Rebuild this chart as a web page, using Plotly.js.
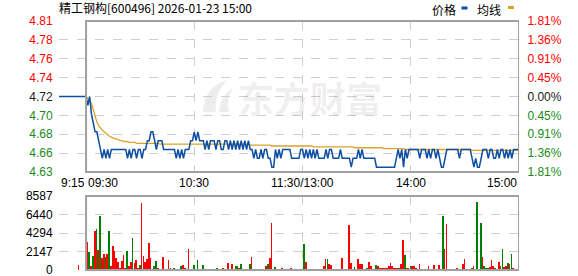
<!DOCTYPE html>
<html><head><meta charset="utf-8">
<script src="https://cdn.plot.ly/plotly-3.0.1.min.js"></script>
<style>html,body{margin:0;padding:0;background:#fff}#c{width:578px;height:276px}</style>
</head><body><div id="c"></div>
<script>
// ---------- data ----------
const stockTitle = '精工钢构[600496] 2026-01-23 15:00';
const prevClose = 4.72;
const maxPct = 1.81;
const priceTickLabels = ['4.81','4.78','4.76','4.74','4.72','4.70','4.68','4.66','4.63'];
const pctTickLabels = ['1.81%','1.36%','0.91%','0.45%','0.00%','0.45%','0.91%','1.36%','1.81%'];
const volTickVals = [0,2147,4294,6440,8587];
const volTickLabels = ['0','2147','4294','6440','8587'];
const timeLabels = ['9:15','09:30','10:30','11:30/13:00','14:00','15:00'];
const timeLabelMin = [-15,0,60,120,180,240];
const preOpenPrice = 4.72;     // 9:15 - 9:30
const auctionVolume = 580;     // 9:25 call auction
const auctionMinute = -5;

// price per trading minute (09:30 .. 15:00, 241 points)
const price = [
4.72,4.71,4.72,4.70,4.69,4.68,4.68,4.67,4.66,4.65,
4.66,4.65,4.66,4.65,4.66,4.66,4.66,4.66,4.66,4.66,
4.66,4.66,4.66,4.65,4.66,4.65,4.66,4.66,4.65,4.66,
4.66,4.65,4.66,4.66,4.67,4.67,4.68,4.68,4.67,4.66,
4.67,4.67,4.67,4.66,4.66,4.66,4.66,4.66,4.66,4.66,
4.65,4.66,4.65,4.66,4.65,4.66,4.66,4.66,4.67,4.67,
4.68,4.67,4.68,4.67,4.67,4.67,4.66,4.67,4.66,4.67,
4.67,4.67,4.66,4.67,4.67,4.66,4.66,4.67,4.67,4.66,
4.67,4.66,4.67,4.66,4.67,4.66,4.67,4.66,4.67,4.66,
4.67,4.66,4.66,4.65,4.66,4.65,4.65,4.66,4.65,4.66,
4.66,4.65,4.65,4.64,4.64,4.66,4.65,4.66,4.65,4.66,
4.66,4.66,4.66,4.66,4.65,4.65,4.65,4.65,4.65,4.66,
4.66,4.65,4.66,4.65,4.66,4.65,4.66,4.65,4.66,4.65,
4.65,4.65,4.65,4.66,4.65,4.66,4.66,4.65,4.65,4.65,
4.65,4.66,4.65,4.65,4.65,4.65,4.65,4.64,4.65,4.65,
4.65,4.66,4.65,4.66,4.65,4.65,4.65,4.65,4.65,4.65,
4.65,4.64,4.64,4.64,4.64,4.64,4.64,4.64,4.64,4.64,
4.64,4.64,4.65,4.66,4.65,4.66,4.64,4.66,4.65,4.66,
4.66,4.66,4.66,4.66,4.66,4.65,4.66,4.66,4.66,4.65,
4.66,4.65,4.66,4.66,4.65,4.66,4.65,4.64,4.64,4.65,
4.66,4.66,4.66,4.66,4.66,4.66,4.66,4.65,4.66,4.66,
4.66,4.66,4.66,4.66,4.65,4.64,4.65,4.64,4.64,4.65,
4.66,4.66,4.66,4.65,4.66,4.66,4.65,4.65,4.66,4.65,
4.66,4.66,4.65,4.66,4.65,4.66,4.65,4.66,4.66,4.66,
4.66];

// average price line
const avgPrice = [
4.720,4.718,4.716,4.712,4.705,4.697,4.691,4.687,4.684,4.682,
4.680,4.678,4.676,4.675,4.674,4.673,4.672,4.672,4.671,4.670,
4.670,4.669,4.669,4.669,4.668,4.668,4.668,4.668,4.667,4.667,
4.667,4.667,4.667,4.667,4.667,4.667,4.667,4.667,4.667,4.667,
4.667,4.666,4.666,4.666,4.666,4.666,4.666,4.666,4.666,4.666,
4.666,4.666,4.666,4.666,4.666,4.666,4.666,4.666,4.666,4.666,
4.666,4.666,4.666,4.666,4.666,4.666,4.666,4.666,4.666,4.666,
4.666,4.666,4.666,4.666,4.666,4.666,4.666,4.666,4.666,4.666,
4.666,4.666,4.666,4.666,4.666,4.666,4.666,4.666,4.666,4.666,
4.666,4.665,4.665,4.665,4.665,4.665,4.665,4.665,4.665,4.665,
4.665,4.665,4.665,4.664,4.664,4.664,4.664,4.664,4.664,4.664,
4.664,4.664,4.664,4.664,4.664,4.664,4.664,4.664,4.664,4.664,
4.664,4.664,4.664,4.664,4.664,4.664,4.663,4.663,4.663,4.663,
4.663,4.663,4.663,4.663,4.663,4.663,4.663,4.663,4.663,4.663,
4.663,4.663,4.663,4.663,4.663,4.663,4.663,4.663,4.663,4.662,
4.662,4.662,4.662,4.662,4.662,4.662,4.662,4.662,4.662,4.662,
4.662,4.662,4.662,4.662,4.662,4.661,4.661,4.661,4.661,4.661,
4.661,4.661,4.661,4.661,4.661,4.661,4.661,4.660,4.660,4.660,
4.660,4.660,4.660,4.660,4.660,4.660,4.660,4.660,4.660,4.660,
4.660,4.660,4.660,4.660,4.660,4.660,4.660,4.660,4.660,4.660,
4.660,4.660,4.660,4.660,4.660,4.660,4.660,4.660,4.660,4.660,
4.660,4.660,4.660,4.660,4.659,4.659,4.659,4.659,4.659,4.659,
4.659,4.659,4.659,4.659,4.659,4.659,4.659,4.659,4.659,4.659,
4.659,4.659,4.659,4.659,4.659,4.659,4.659,4.659,4.659,4.659,
4.659];

// volume per minute (lots)
const volume = [
3250,2090,460,1625,4490,4760,2320,6270,1390,1860,
1510,1860,4530,460,2790,2200,1390,930,230,1045,
1740,230,2200,460,900,3715,810,1160,230,580,
7780,1625,930,1280,3135,1390,115,460,1045,230,
115,115,1510,115,115,1160,230,115,230,115,
115,115,460,580,230,115,2440,115,115,580,
115,1160,115,115,580,115,115,115,115,115,
115,115,230,115,115,230,115,115,810,115,
700,115,460,460,230,700,115,115,115,115,
700,1510,115,115,115,115,115,115,115,460,
700,1390,5460,115,350,115,115,115,230,115,
115,115,115,230,115,115,115,115,115,115,
3000,930,115,115,115,115,115,115,115,115,
115,460,1280,1280,700,580,115,115,115,115,
115,1390,115,115,115,5220,810,115,350,115,
1280,700,700,115,115,230,930,460,115,115,
580,460,230,230,230,230,230,460,810,460,
230,230,230,230,700,3480,1740,230,230,460,
460,460,230,115,700,115,115,115,115,460,
115,115,580,115,115,580,115,6270,2440,5340,
115,115,115,115,115,230,115,115,700,1280,
115,115,115,230,460,115,7890,115,5460,1510,
460,230,230,350,1160,460,230,115,930,460,
2440,350,460,810,700,1860,230,115,115,115,
2090];
// 1 = up (red), -1 = down (green)
const volDir = [
1,-1,1,-1,1,-1,1,-1,1,1,
-1,1,-1,1,1,1,1,1,1,1,
1,1,-1,1,1,-1,1,1,1,-1,
1,1,1,1,1,1,1,-1,-1,1,
-1,1,1,-1,-1,1,1,1,-1,1,
1,1,-1,1,1,1,1,1,1,-1,
1,-1,1,1,-1,1,1,1,1,1,
1,1,-1,1,1,1,1,1,1,1,
1,1,-1,-1,1,-1,1,1,1,1,
-1,1,1,1,1,1,1,1,1,1,
-1,1,1,1,-1,1,1,1,1,1,
1,1,1,1,1,1,1,1,1,1,
-1,1,1,1,1,1,1,1,1,1,
1,1,1,-1,1,1,1,1,1,1,
1,1,1,1,1,1,1,-1,-1,1,
1,1,1,1,1,-1,1,1,1,1,
-1,1,1,1,1,1,1,1,1,1,
1,1,1,-1,1,1,-1,1,1,-1,
1,1,1,1,1,1,1,1,1,1,
1,1,1,-1,1,1,1,-1,1,1,
1,1,1,1,1,1,1,1,1,1,
1,1,1,-1,1,1,-1,1,-1,1,
-1,-1,-1,1,1,1,-1,1,1,-1,
-1,1,1,-1,1,-1,1,1,1,1,
1];

// ---------- build ----------
const RED = '#ff0000', GREEN = '#008000', DARK = '#1a1a1a';
const minutes = price.map((_, i) => i);
const span = prevClose * maxPct / 100;
const yLo = prevClose - span, yHi = prevClose + span;
const priceTickVals = priceTickLabels.map((_, i) => yHi - i * (2 * span) / (priceTickLabels.length - 1));
const mid = (priceTickLabels.length - 1) / 2;
const colorFor = i => i < mid ? RED : (i === mid ? DARK : '#1a8a1a');
const leftText = priceTickLabels.map((t, i) => `<span style="color:${colorFor(i)}">${t}</span>`);
const rightText = pctTickLabels.map((t, i) => `<span style="color:${colorFor(i)}">${t}</span>`);

const W = 578, H = 276, L = 59, R = 519, T = 21, B = 270;
const PX = x => (x - L) / (R - L);
const PY = y => (B - y) / (B - T);

const traces = [
  {x: [-15, 0], y: [preOpenPrice, price[0]], type: 'scatter', mode: 'lines',
   line: {color: '#0d4fa3', width: 1.5}, xaxis: 'x', yaxis: 'y', hoverinfo: 'skip'},
  {x: minutes, y: avgPrice, type: 'scatter', mode: 'lines',
   line: {color: '#dba22a', width: 1.3}, xaxis: 'x', yaxis: 'y'},
  {x: minutes, y: price, type: 'scatter', mode: 'lines',
   line: {color: '#0d4fa3', width: 1.5}, xaxis: 'x', yaxis: 'y'},
  {x: minutes, y: price, type: 'scatter', mode: 'none', xaxis: 'x', yaxis: 'y3', showlegend: false, hoverinfo: 'skip'},
  {x: [auctionMinute].concat(minutes), y: [auctionVolume].concat(volume), type: 'bar',
   marker: {color: [RED].concat(volDir.map(d => d > 0 ? RED : GREEN)), line: {width: 0}},
   width: 0.95, offset: 0.3, xaxis: 'x2', yaxis: 'y2'}
];

const gridC = '#cfcfcf';
const xCommon = {range: [-15, 240], tickvals: [-15, 60, 120, 180], showticklabels: false,
  showgrid: true, gridcolor: gridC, griddash: 'dash', gridwidth: 1, zeroline: false, showline: false, fixedrange: true};

const annotations = [];
timeLabels.forEach((t, i) => {
  const m = timeLabelMin[i];
  annotations.push({text: t, xref: 'x', x: m, yref: 'paper', y: PY(183), showarrow: false,
    xanchor: i < 2 ? 'left' : (i === timeLabels.length - 1 ? 'right' : 'center'), yanchor: 'middle',
    font: {size: 12, color: '#000'}});
});
annotations.push({text: '价格', xref: 'paper', x: PX(443.5), yref: 'paper', y: PY(9), showarrow: false,
  xanchor: 'center', yanchor: 'middle', font: {family: 'Noto Sans CJK SC, sans-serif', size: 12, color: '#000'}});
annotations.push({text: '均线', xref: 'paper', x: PX(488.5), yref: 'paper', y: PY(9), showarrow: false,
  xanchor: 'center', yanchor: 'middle', font: {family: 'Noto Sans CJK SC, sans-serif', size: 12, color: '#000'}});
annotations.push({text: '<b>东方财富</b>', xref: 'paper', x: PX(310), yref: 'paper', y: PY(97), showarrow: false,
  xanchor: 'center', yanchor: 'middle', font: {family: 'Noto Sans CJK SC, sans-serif', size: 36, color: 'rgba(0,0,0,0.075)'}});

const shapes = [
  // watermark logo mark (faint)
  {type: 'path', xref: 'paper', yref: 'paper', layer: 'below',
   path: `M ${PX(203)} ${PY(112)} Q ${PX(204)} ${PY(86)} ${PX(228)} ${PY(80)} Q ${PX(214)} ${PY(92)} ${PX(216)} ${PY(112)} Z`,
   fillcolor: 'rgba(0,0,0,0.07)', line: {width: 0}},
  {type: 'path', xref: 'paper', yref: 'paper', layer: 'below',
   path: `M ${PX(219)} ${PY(112)} Q ${PX(220)} ${PY(96)} ${PX(233)} ${PY(88)} Q ${PX(226)} ${PY(100)} ${PX(229)} ${PY(112)} Z`,
   fillcolor: 'rgba(0,0,0,0.07)', line: {width: 0}},
  {type: 'rect', xref: 'x', yref: 'y domain', x0: 0, x1: 240, y0: 0, y1: 1, line: {color: '#a0a0a0', width: 2}},
  {type: 'rect', xref: 'x2', yref: 'y2 domain', x0: 0, x1: 240, y0: 0, y1: 1, line: {color: '#a0a0a0', width: 2}},
  {type: 'rect', xref: 'paper', yref: 'paper', x0: PX(461.5), x1: PX(467.5), y0: PY(9.5), y1: PY(6.5), fillcolor: '#0d4fa3', line: {width: 0}},
  {type: 'rect', xref: 'paper', yref: 'paper', x0: PX(508), x1: PX(514), y0: PY(9), y1: PY(6), fillcolor: '#dba22a', line: {width: 0}}
];

const layout = {
  width: W, height: H,
  margin: {l: L, r: W - R, t: T, b: H - B, pad: 0},
  paper_bgcolor: '#fff', plot_bgcolor: 'rgba(0,0,0,0)',
  showlegend: false, bargap: 0,
  font: {family: 'Liberation Sans, Arial, sans-serif', size: 12, color: '#000'},
  title: {text: stockTitle, xref: 'container', x: L / W, xanchor: 'left', yref: 'container', y: 1 - 9 / H, yanchor: 'middle',
    font: {family: 'Noto Sans CJK SC, sans-serif', size: 12, color: '#000'}},
  xaxis: Object.assign({}, xCommon, {domain: [0, 1], anchor: 'y'}),
  xaxis2: Object.assign({}, xCommon, {domain: [0, 1], anchor: 'y2'}),
  yaxis: {domain: [PY(172), 1], range: [yLo, yHi], tickvals: priceTickVals, ticktext: leftText,
    showgrid: true, gridcolor: gridC, griddash: 'dash', zeroline: false, showline: false,
    ticks: 'outside', ticklen: 3, tickcolor: 'rgba(0,0,0,0)', tickfont: {size: 12}, fixedrange: true},
  yaxis3: {overlaying: 'y', side: 'right', anchor: 'x', range: [yLo, yHi], tickvals: priceTickVals, ticktext: rightText,
    showgrid: false, zeroline: false, showline: false, ticks: 'outside', ticklen: 5, tickcolor: 'rgba(0,0,0,0)',
    tickfont: {size: 12}, fixedrange: true},
  yaxis2: {domain: [0, PY(196)], range: [0, volTickVals[volTickVals.length - 1]], tickvals: volTickVals, ticktext: volTickLabels,
    showgrid: true, gridcolor: gridC, griddash: 'dash', zeroline: false, showline: false, ticklabeloverflow: 'allow',
    ticks: 'outside', ticklen: 3, tickcolor: 'rgba(0,0,0,0)', tickfont: {size: 12}, fixedrange: true},
  annotations: annotations,
  shapes: shapes
};

Plotly.newPlot('c', traces, layout, {displayModeBar: false, staticPlot: true});
</script>
</body></html>
